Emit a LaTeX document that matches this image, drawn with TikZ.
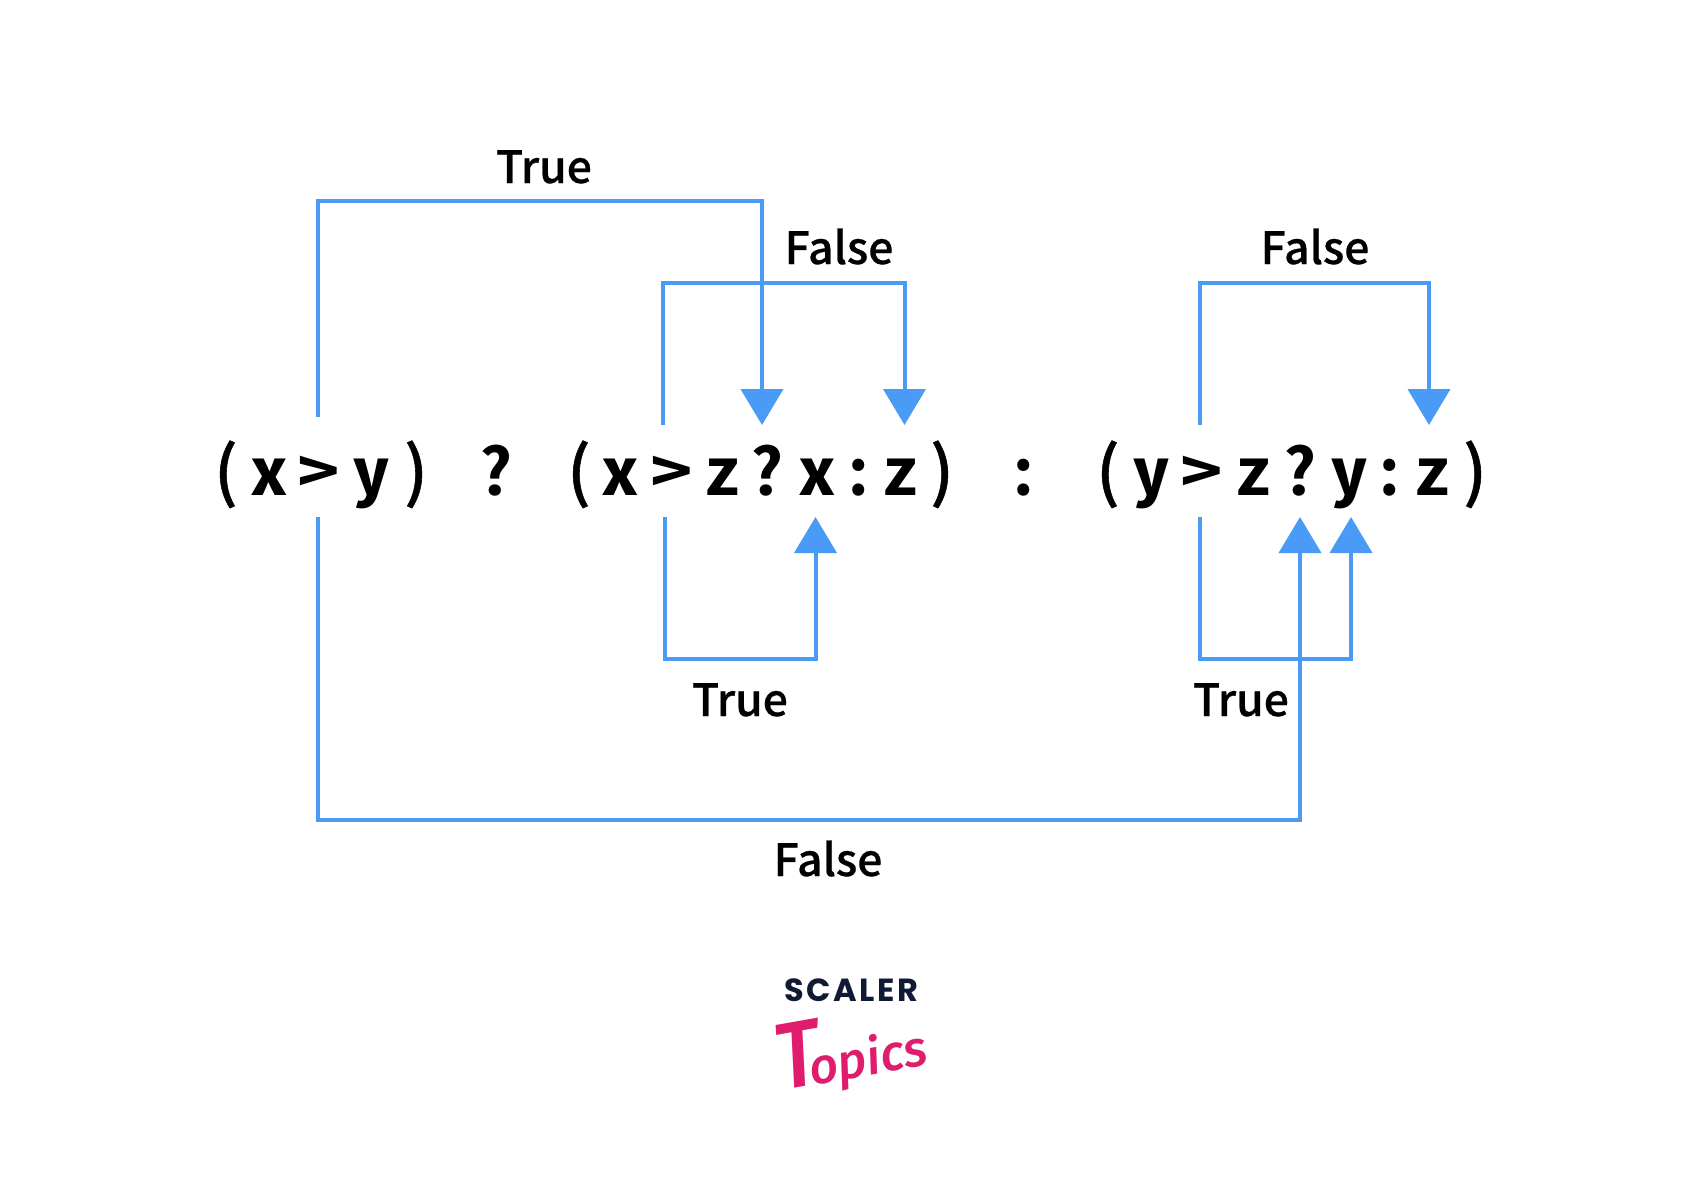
\documentclass[tikz,border=0pt]{standalone}
\usepackage{fontspec}
\usetikzlibrary{arrows.meta}
\newfontfamily\labfont[FakeBold=0.5]{Noto Sans CJK SC Medium}
\newfontfamily\parenfont[FakeBold=0.8]{Noto Sans CJK SC Medium}
\newfontfamily\exfont{Noto Sans Mono CJK SC Bold}
\newfontfamily\scalerfont[LetterSpace=8]{Poppins Bold}
\newfontfamily\topicsfont{Fira Sans Medium Italic}
\definecolor{flow}{RGB}{74,155,245}
\definecolor{navy}{RGB}{15,26,51}
\definecolor{pinkish}{RGB}{224,29,108}
\newcommand{\ltr}[1]{\scalebox{1.16}[1]{#1}}
\newcommand{\gtr}{\scalebox{1.32}[1]{>}}
\newcommand{\qmk}{\scalebox{1.08}[1]{?}}
\newcommand{\lpr}{{\parenfont\fontsize{66}{66}\selectfont (}}
\newcommand{\rpr}{{\parenfont\fontsize{66}{66}\selectfont )}}
\tikzset{
  ex/.style={anchor=base,inner sep=0pt,font=\exfont\fontsize{65}{65}\selectfont},
  lab/.style={anchor=base,inner sep=0pt,font=\labfont\fontsize{44.5}{44.5}\selectfont},
  flowline/.style={draw=flow,line width=4pt,line join=miter},
  flowarrow/.style={flowline,-{Triangle[length=36pt,width=42pt,fill=flow]}}
}
\begin{document}
\begin{tikzpicture}[x=1pt,y=-1pt]
\useasboundingbox[fill=white] (0,0) rectangle (1701,1197);
% expression
\foreach \n/\xx/\t in {a1/226/\lpr,a2/269/\ltr{x},a3/319/\gtr,a4/371/\ltr{y},a5/416/\rpr,a6/496/\qmk,b1/579/\lpr,b2/620/\ltr{x},b3/672/\gtr,b4/722/\ltr{z},b5/767/\qmk,b6/817/\ltr{x},b7/859/:,b8/900/\ltr{z},b9/942/\rpr,c0/1024/:,c1/1108/\lpr,c2/1151/\ltr{y},c3/1202/\gtr,c4/1253/\ltr{z},c5/1300/\qmk,c6/1349/\ltr{y},c7/1390/:,c8/1432/\ltr{z},c9/1475/\rpr}
  {\node[ex] (\n) at (\xx,495) {\t};}
% connector ends
\coordinate (s1) at (317.5,417);
\coordinate (t1) at (762,425);
\coordinate (s2) at (663,425);
\coordinate (t2) at (904.5,425);
\coordinate (s3) at (1200,425);
\coordinate (t3) at (1429,425);
\coordinate (s4) at (317.5,517);
\coordinate (t4) at (1300,517);
\coordinate (s5) at (665,517);
\coordinate (t5) at (815.5,517);
\coordinate (s6) at (1200,517);
\coordinate (t6) at (1351,517);
% connectors
\draw[flowarrow] (s1) -- (s1 |- 0,201) -- (t1 |- 0,201) -- (t1);
\draw[flowarrow] (s2) -- (s2 |- 0,283) -- (t2 |- 0,283) -- (t2);
\draw[flowarrow] (s3) -- (s3 |- 0,283) -- (t3 |- 0,283) -- (t3);
\draw[flowarrow] (s4) -- (s4 |- 0,820) -- (t4 |- 0,820) -- (t4);
\draw[flowarrow] (s5) -- (s5 |- 0,659) -- (t5 |- 0,659) -- (t5);
\draw[flowarrow] (s6) -- (s6 |- 0,659) -- (t6 |- 0,659) -- (t6);
% labels
\node[lab] (l1) at (544,183) {True};
\node[lab] (l2) at (839,264) {False};
\node[lab] (l3) at (1315,264) {False};
\node[lab] (l4) at (740,716) {True};
\node[lab] (l5) at (1241,716) {True};
\node[lab] (l6) at (828,876) {False};
% logo
\node[anchor=base,inner sep=0pt,text=navy,font=\scalerfont\fontsize{32}{32}\selectfont] (scaler) at (851,1001) {SCALER};
\node[inner sep=0pt,text=pinkish,rotate=10,font=\topicsfont\fontsize{50}{50}\selectfont] (topics) at (851,1051) {\scalebox{.9}[1]{\fontsize{94}{94}\selectfont T}\kern-13pt opics};
\end{tikzpicture}
\end{document}
